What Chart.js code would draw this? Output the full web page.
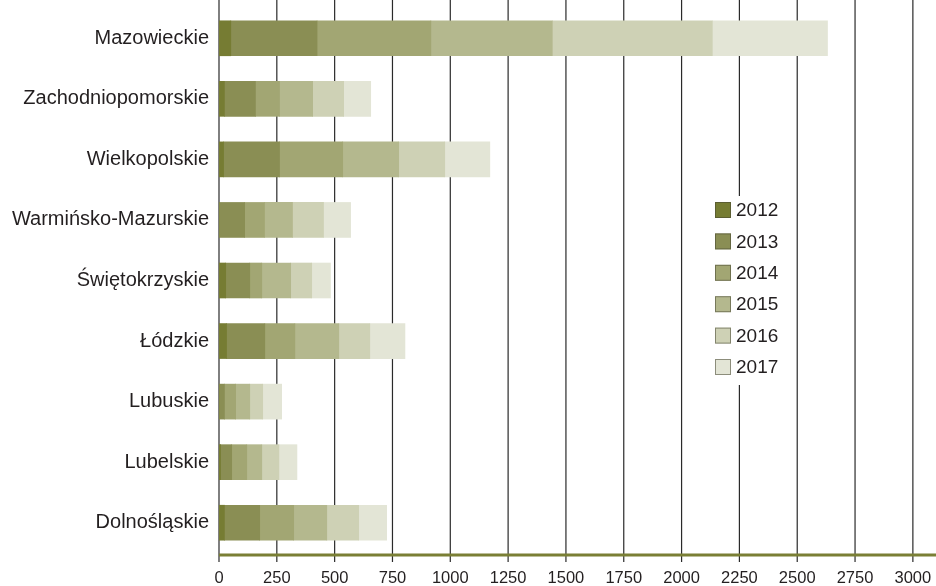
<!DOCTYPE html>
<html>
<head>
<meta charset="utf-8">
<script src="https://cdn.jsdelivr.net/npm/chart.js@4.4.1/dist/chart.umd.min.js"></script>
<style>
  html, body { margin: 0; padding: 0; background: #ffffff; }
  #wrap { width: 936px; height: 586px; position: relative; }
</style>
</head>
<body>
<div id="wrap"><canvas id="c" width="936" height="586"></canvas></div>
<script>
// Voivodeships, top to bottom
const regions = [
  'Mazowieckie',
  'Zachodniopomorskie',
  'Wielkopolskie',
  'Warmińsko-Mazurskie',
  'Świętokrzyskie',
  'Łódzkie',
  'Lubuskie',
  'Lubelskie',
  'Dolnośląskie'
];

const years = ['2012', '2013', '2014', '2015', '2016', '2017'];

// Values per year, in the same order as regions
const v2012 = [51, 24, 20, 0, 29, 33, 0, 7, 24];
const v2013 = [373, 134, 242, 111, 104, 165, 24, 48, 152];
const v2014 = [492, 104, 273, 86, 52, 130, 48, 65, 147];
const v2015 = [525, 143, 242, 121, 125, 190, 61, 65, 143];
const v2016 = [692, 134, 199, 134, 91, 134, 56, 74, 138];
const v2017 = [498, 117, 195, 117, 81, 152, 82, 78, 121];

const xTicks = [0, 250, 500, 750, 1000, 1250, 1500, 1750, 2000, 2250, 2500, 2750, 3000];

const palette = ['#767C33', '#8A8E54', '#A2A673', '#B4B88E', '#CED1B5', '#E3E5D6'];
const series = [v2012, v2013, v2014, v2015, v2016, v2017];

const FONT = '"Liberation Sans", Arial, Helvetica, sans-serif';
const TEXT = '#231F20';

// Vertical grid lines, drawn from the top of the canvas down past the axis
const gridPlugin = {
  id: 'fullGrid',
  beforeDatasetsDraw(chart) {
    const ctx = chart.ctx;
    const x = chart.scales.x;
    const area = chart.chartArea;
    ctx.save();
    ctx.strokeStyle = '#2a2a2a';
    ctx.lineWidth = 1.2;
    xTicks.forEach(t => {
      const px = x.getPixelForValue(t);
      ctx.beginPath();
      ctx.moveTo(px, 0);
      ctx.lineTo(px, area.bottom + 9);
      ctx.stroke();
    });
    ctx.restore();
  },
  afterDatasetsDraw(chart) {
    const ctx = chart.ctx;
    const area = chart.chartArea;
    ctx.save();
    // olive base line
    ctx.strokeStyle = '#7A7F35';
    ctx.lineWidth = 3;
    ctx.beginPath();
    ctx.moveTo(area.left, area.bottom + 2);
    ctx.lineTo(chart.width, area.bottom + 2);
    ctx.stroke();

    // legend panel
    ctx.fillStyle = '#ffffff';
    ctx.fillRect(704, 196, 86, 189);
    chart.data.datasets.forEach((ds, i) => {
      const cy = 210 + i * 31.4;
      ctx.fillStyle = ds.backgroundColor;
      ctx.fillRect(715, cy - 8, 16, 16);
      ctx.strokeStyle = 'rgba(70,70,50,0.55)';
      ctx.lineWidth = 1;
      ctx.strokeRect(715.5, cy - 7.5, 15, 15);
      ctx.fillStyle = TEXT;
      ctx.font = '19px ' + FONT;
      ctx.textBaseline = 'middle';
      ctx.textAlign = 'left';
      ctx.fillText(ds.label, 736, cy + 1);
    });
    ctx.restore();
  }
};

new Chart(document.getElementById('c'), {
  type: 'bar',
  data: {
    labels: regions,
    datasets: series.map((vals, i) => ({
      label: years[i],
      data: vals,
      backgroundColor: palette[i],
      borderWidth: 0,
      barThickness: 35
    }))
  },
  options: {
    indexAxis: 'y',
    responsive: false,
    animation: false,
    devicePixelRatio: 1,
    layout: { padding: { top: 8, right: 0, left: 0, bottom: 0 } },
    plugins: {
      legend: { display: false },
      tooltip: { enabled: false }
    },
    scales: {
      x: {
        stacked: true,
        min: 0,
        max: 3100,
        border: { display: false },
        grid: { display: false, drawTicks: false },
        afterBuildTicks(scale) {
          scale.ticks = xTicks.map(v => ({ value: v }));
        },
        afterFit(scale) {
          scale.height = 33;
          scale.paddingLeft = 0;
          scale.paddingRight = 0;
        },
        ticks: {
          autoSkip: false,
          maxRotation: 0,
          padding: 16,
          color: TEXT,
          font: { family: FONT, size: 16.5 },
          callback: v => String(v)
        }
      },
      y: {
        stacked: true,
        border: { display: false },
        grid: { display: false, drawTicks: false },
        afterFit(scale) {
          scale.width = 219;
          scale.paddingTop = 0;
          scale.paddingBottom = 0;
        },
        ticks: {
          padding: 10,
          color: TEXT,
          font: { family: FONT, size: 20 }
        }
      }
    }
  },
  plugins: [gridPlugin]
});
</script>
</body>
</html>
